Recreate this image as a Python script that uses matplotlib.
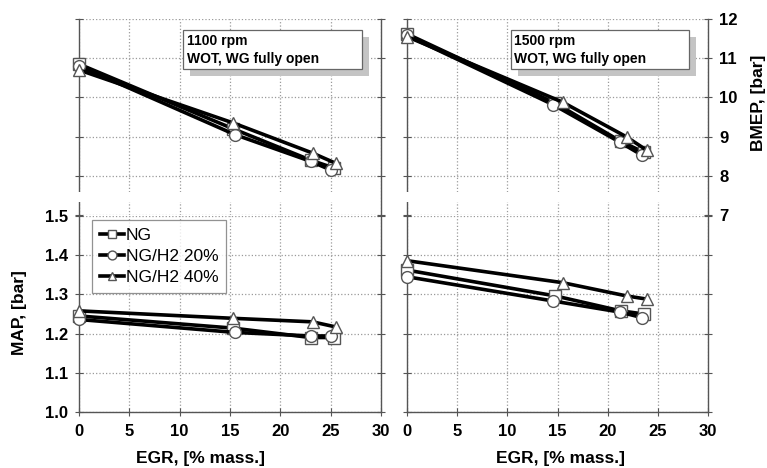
import matplotlib
matplotlib.use("Agg")
import matplotlib.pyplot as plt
from matplotlib.patches import Rectangle

plt.rcParams['font.family'] = ['Liberation Sans', 'DejaVu Sans']

labels = ['NG', 'NG/H2 20%', 'NG/H2 40%']
markers = ['s', 'o', '^']

# 1100 rpm
egr_1100 = [[0, 15.3, 23.0, 25.3],
            [0, 15.5, 23.0, 25.0],
            [0, 15.3, 23.2, 25.5]]
bmep_1100 = [[10.85, 9.20, 8.40, 8.20],
             [10.80, 9.05, 8.37, 8.15],
             [10.70, 9.35, 8.58, 8.32]]
map_1100 = [[1.245, 1.214, 1.190, 1.190],
            [1.236, 1.203, 1.194, 1.194],
            [1.258, 1.239, 1.230, 1.217]]

# 1500 rpm
egr_1500 = [[0, 14.8, 21.3, 23.6],
            [0, 14.6, 21.2, 23.4],
            [0, 15.5, 21.9, 23.9]]
bmep_1500 = [[11.62, 9.85, 8.88, 8.60],
             [11.58, 9.81, 8.86, 8.53],
             [11.55, 9.88, 8.99, 8.65]]
map_1500 = [[1.362, 1.296, 1.258, 1.250],
            [1.345, 1.283, 1.255, 1.241],
            [1.386, 1.330, 1.296, 1.288]]

bmep_ticks = [7, 8, 9, 10, 11, 12]
map_ticks = [1.0, 1.1, 1.2, 1.3, 1.4, 1.5]
egr_ticks = [0, 5, 10, 15, 20, 25, 30]

W, H = 767, 468
fig = plt.figure(figsize=(W / 100, H / 100), dpi=100)

xl = [79, 407]
xr = [381, 708]
ax_tl = fig.add_axes([xl[0] / W, 1 - 215 / H, (xr[0] - xl[0]) / W, 196 / H])
ax_tr = fig.add_axes([xl[1] / W, 1 - 215 / H, (xr[1] - xl[1]) / W, 196 / H])
ax_bl = fig.add_axes([xl[0] / W, 1 - 412 / H, (xr[0] - xl[0]) / W, 196 / H])
ax_br = fig.add_axes([xl[1] / W, 1 - 412 / H, (xr[1] - xl[1]) / W, 196 / H])

spine_c = '#555555'
grid_c = '#9a9a9a'


def style(ax, top):
    ax.set_xlim(0, 30)
    ax.set_xticks(egr_ticks)
    ax.grid(True, linestyle=':', color=grid_c, linewidth=0.9)
    ax.spines['top'].set_visible(False)
    for s in ('left', 'right', 'bottom'):
        ax.spines[s].set_color(spine_c)
        ax.spines[s].set_linewidth(1.0)
    ax.tick_params(axis='y', left=True, right=True, direction='inout',
                   length=6, color=spine_c, labelleft=False, labelright=False,
                   labelsize=12, pad=5)
    if top:
        ax.spines['bottom'].set_visible(False)
        ax.set_ylim(7, 12)
        ax.set_yticks(bmep_ticks)
        ax.tick_params(axis='x', length=0, labelbottom=False)
        # break between upper and lower panels
        ax.add_patch(Rectangle((-1, 7.33), 30.8, 0.25, facecolor='white',
                               edgecolor='none', zorder=2.7, clip_on=False))
    else:
        ax.set_ylim(1.0, 1.5)
        ax.set_yticks(map_ticks)
        ax.tick_params(axis='x', direction='inout', length=6, color=spine_c,
                       labelsize=12, pad=6)


def draw(ax, xs, ys):
    for x, y, m, lab in zip(xs, ys, markers, labels):
        ax.plot(x, y, color='black', linewidth=2.6, marker=m, markersize=8.5,
                markerfacecolor='white', markeredgecolor='#555555',
                markeredgewidth=1.0, label=lab, zorder=3, clip_on=False)


def note(ax, text):
    x0, x1, y0, y1 = 0.345, 0.937, 0.745, 0.944
    ax.add_patch(Rectangle((x0 + 0.023, y0 - 0.036), x1 - x0, y1 - y0,
                           transform=ax.transAxes, facecolor='#c4c4c4',
                           edgecolor='none', zorder=4))
    ax.add_patch(Rectangle((x0, y0), x1 - x0, y1 - y0, transform=ax.transAxes,
                           facecolor='white', edgecolor='#666666',
                           linewidth=0.9, zorder=5))
    ax.text(x0 + 0.012, y1 - 0.022, text, transform=ax.transAxes,
            fontsize=10, fontweight='bold', va='top', ha='left',
            linespacing=1.3, zorder=6)


for ax, top in ((ax_tl, True), (ax_tr, True), (ax_bl, False), (ax_br, False)):
    style(ax, top)

draw(ax_tl, egr_1100, bmep_1100)
draw(ax_bl, egr_1100, map_1100)
draw(ax_tr, egr_1500, bmep_1500)
draw(ax_br, egr_1500, map_1500)

note(ax_tl, '1100 rpm\nWOT, WG fully open')
note(ax_tr, '1500 rpm\nWOT, WG fully open')

ax_tr.tick_params(axis='y', labelright=True)
ax_bl.tick_params(axis='y', labelleft=True)
ax_bl.set_yticklabels(['%.1f' % v for v in map_ticks])
for ax in (ax_tr, ax_bl, ax_br):
    for t in ax.get_yticklabels() + ax.get_xticklabels():
        t.set_fontweight('bold')

leg = ax_bl.legend(loc='upper left', bbox_to_anchor=(0.043, 0.98),
                   borderaxespad=0, fancybox=False, frameon=True,
                   edgecolor='#777777', fontsize=12.5, handlelength=1.4,
                   handletextpad=0.1, labelspacing=0.35, borderpad=0.45,
                   markerscale=0.75)
leg.get_frame().set_linewidth(0.9)
leg.set_zorder(6)

fig.text(20 / W, 1 - 313 / H, 'MAP, [bar]', rotation=90, ha='center',
         va='center', fontsize=12.5, fontweight='bold')
fig.text(758 / W, 1 - 103 / H, 'BMEP, [bar]', rotation=90, ha='center',
         va='center', fontsize=12.5, fontweight='bold')
fig.text(201 / W, 1 - 458 / H, 'EGR, [% mass.]', ha='center', va='center',
         fontsize=12.5, fontweight='bold')
fig.text(560 / W, 1 - 458 / H, 'EGR, [% mass.]', ha='center', va='center',
         fontsize=12.5, fontweight='bold')

fig.savefig('out.png', dpi=100)
